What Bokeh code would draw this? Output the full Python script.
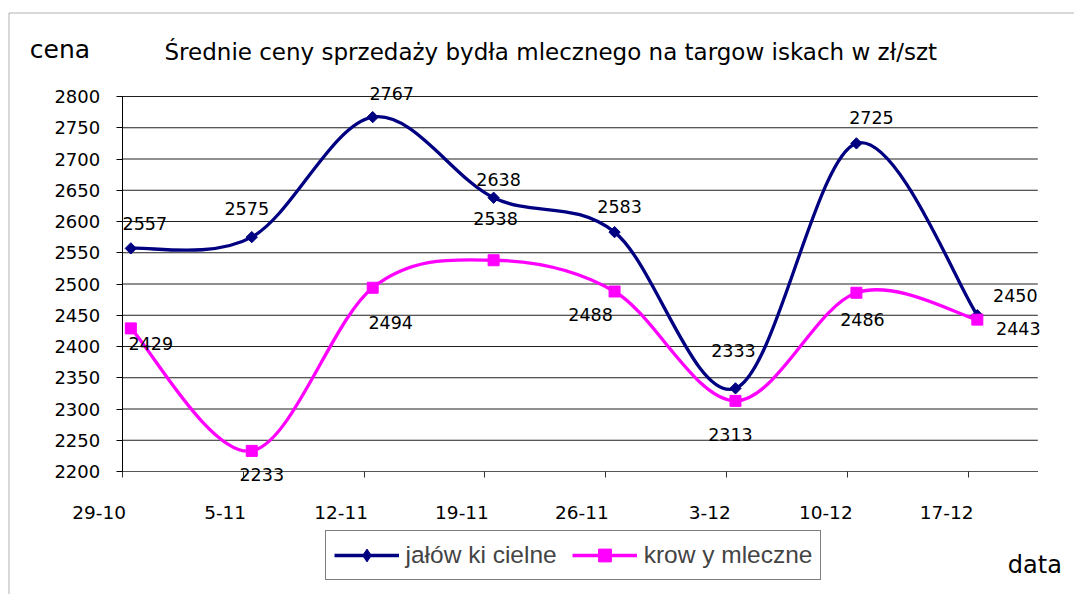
import numpy as np
import pandas as pd
from bokeh.plotting import figure
from bokeh.models import (ColumnDataSource, LabelSet, Label, Legend, LegendItem,
                          FixedTicker, BoxAnnotation, Range1d, LinearAxis)
from bokeh.core.properties import value
from bokeh.embed import file_html
from bokeh.resources import INLINE

# ---------------- data ----------------
dates = ["29-10", "5-11", "12-11", "19-11", "26-11", "3-12", "10-12", "17-12"]
jalowki = [2557, 2575, 2767, 2638, 2583, 2333, 2725, 2450]
krowy = [2429, 2233, 2494, 2538, 2488, 2313, 2486, 2443]
y_ticks = [2200, 2250, 2300, 2350, 2400, 2450, 2500, 2550, 2600, 2650, 2700, 2750, 2800]
series_names = ["jałów ki cielne", "krow y mleczne"]
title_text = "Średnie ceny sprzedaży bydła mlecznego na targow iskach w  zł/szt"
y_title = "cena"
x_title = "data"

# ---------------- styles / positions ----------------
# data-label offsets in screen px (+y = up)
jal_dx = [14, -5, 19, 5, 5, -2, 15, 38]
jal_dy = [25, 29, 24, 18, 26, 38, 26, 20]
krow_dx = [20, 10, 18, 2, -24, -5, 6, 41]
krow_dy = [-15, -24, -35, 42, -23, -34, -27, -9]
# date-label horizontal shift from its tick (px)
xlab_shift_px = [-23, -18, -23, -23, -24, -17, -22, -22]
NAVY = "#000080"
MAGENTA = "#FF00FF"
FONT = "DejaVu Sans"
W, H = 1074, 594
PX_L, PX_R, PX_T, PX_B = 121.7, 1037.3, 96.0, 471.0   # plot-area box in pixels

# date axis: days since first date, points centred in their day
dt = pd.to_datetime([d + "-2007" for d in dates], format="%d-%m-%Y")
days = np.array([(d - dt[0]).days for d in dt], dtype=float)
xs = days + 0.5
X0, X1 = 0.0, 53.0
Y0, Y1 = float(y_ticks[0]), float(y_ticks[-1])
kx = (X1 - X0) / (PX_R - PX_L)
ky = (Y1 - Y0) / (PX_B - PX_T)


def bezier_segments(x, y):
    P = np.column_stack([x, np.asarray(y, dtype=float)])
    E = np.vstack([P[0], P, P[-1]])
    seg = {k: [] for k in ["x0", "y0", "x1", "y1", "cx0", "cy0", "cx1", "cy1"]}
    for i in range(len(P) - 1):
        p0, p1, p2, p3 = E[i], E[i + 1], E[i + 2], E[i + 3]
        c1 = p1 + (p2 - p0) / 6.0
        c2 = p2 - (p3 - p1) / 6.0
        seg["x0"].append(p1[0]); seg["y0"].append(p1[1])
        seg["x1"].append(p2[0]); seg["y1"].append(p2[1])
        seg["cx0"].append(c1[0]); seg["cy0"].append(c1[1])
        seg["cx1"].append(c2[0]); seg["cy1"].append(c2[1])
    return ColumnDataSource(seg)


p = figure(width=W, height=H, output_backend="svg", toolbar_location=None,
           x_range=Range1d(X0 - PX_L * kx, X1 + (W - PX_R) * kx),
           y_range=Range1d(Y0 - (H - PX_B) * ky, Y1 + PX_T * ky),
           min_border=0, min_border_left=0, min_border_right=0,
           min_border_top=0, min_border_bottom=0)
p.outline_line_color = None
p.background_fill_color = "white"
p.border_fill_color = "white"
p.xgrid.visible = False
p.ygrid.visible = False

# horizontal gridlines across the plot area
p.segment(x0=[X0] * len(y_ticks), x1=[X1] * len(y_ticks), y0=y_ticks, y1=y_ticks,
          line_color="#202020", line_width=1)

# y axis
p.yaxis.fixed_location = X0
p.yaxis.bounds = (Y0, Y1)
p.yaxis.ticker = FixedTicker(ticks=y_ticks)
p.yaxis.minor_tick_line_color = None
p.yaxis.major_tick_out = 6
p.yaxis.major_tick_in = 0
p.yaxis.axis_line_color = "black"
p.yaxis.major_tick_line_color = "black"
p.yaxis.major_label_text_font = FONT
p.yaxis.major_label_text_font_size = "18px"
p.yaxis.major_label_text_color = "black"
p.yaxis.major_label_standoff = 16

# x axis: line and tick marks
p.xaxis.fixed_location = Y0
p.xaxis.bounds = (X0, X1)
p.xaxis.ticker = FixedTicker(ticks=list(days))
p.xaxis.major_label_overrides = {float(d): "" for d in days}
p.xaxis.minor_tick_line_color = None
p.xaxis.major_tick_out = 6
p.xaxis.major_tick_in = 0
p.xaxis.axis_line_color = "#555555"
p.xaxis.major_tick_line_color = "#333333"

# x axis: date labels (right-aligned to their tick as in the original)
lab_pos = [float(d + s * kx) for d, s in zip(days, xlab_shift_px)]
lab_axis = LinearAxis(fixed_location=Y0, ticker=FixedTicker(ticks=lab_pos),
                      major_label_overrides={pos: lab for pos, lab in zip(lab_pos, dates)},
                      axis_line_color=None, major_tick_line_color=None,
                      minor_tick_line_color=None, major_tick_out=6, major_tick_in=0,
                      major_label_standoff=28, major_label_text_font=FONT,
                      major_label_text_font_size="18.5px", major_label_text_color="black")
p.add_layout(lab_axis, "below")

# series
rj = p.bezier(x0="x0", y0="y0", x1="x1", y1="y1", cx0="cx0", cy0="cy0", cx1="cx1", cy1="cy1",
              source=bezier_segments(xs, jalowki), line_color=NAVY, line_width=3.3)
rk = p.bezier(x0="x0", y0="y0", x1="x1", y1="y1", cx0="cx0", cy0="cy0", cx1="cx1", cy1="cy1",
              source=bezier_segments(xs, krowy), line_color=MAGENTA, line_width=3.3)
# diamond symbol used for the legend (drawn underneath the chart markers)
sj_leg = p.scatter(xs, jalowki, marker="diamond", size=7, fill_color=NAVY, line_color=NAVY)
sj = p.scatter(xs, jalowki, marker="square", angle=np.pi / 4, size=8,
               fill_color=NAVY, line_color=NAVY)
sk = p.scatter(xs, krowy, marker="square", size=11, fill_color=MAGENTA, line_color=MAGENTA)

# data labels
for vals, dx, dy in [(jalowki, jal_dx, jal_dy), (krowy, krow_dx, krow_dy)]:
    src = ColumnDataSource(dict(x=xs, y=vals, t=[str(v) for v in vals], dx=dx, dy=dy))
    p.add_layout(LabelSet(x="x", y="y", text="t", x_offset="dx", y_offset="dy", source=src,
                          text_align="center", text_baseline="middle",
                          text_font=value(FONT), text_font_size="17.5px", text_color="black"))

# titles (screen px from left / from bottom)
for txt, lx, ly, fs in [(y_title, 29.3, H - 49.3, "25px"),
                        (title_text, 164, H - 51.7, "23px"),
                        (x_title, 1007.3, H - 564.7, "24px")]:
    p.add_layout(Label(x=lx, y=ly, x_units="screen", y_units="screen", text=txt,
                       text_font=FONT, text_font_size=fs, text_color="black",
                       text_baseline="alphabetic", text_align="left"))

# legend
legend = Legend(items=[LegendItem(label=series_names[0], renderers=[rj, sj_leg]),
                       LegendItem(label=series_names[1], renderers=[rk, sk])],
                orientation="horizontal", location=(324.5, H - 580),
                glyph_width=65, glyph_height=32, label_height=28, label_standoff=7,
                spacing=15, padding=8, margin=0,
                label_text_font="Liberation Sans", label_text_font_size="24.5px",
                border_line_color="black", border_line_width=1,
                background_fill_color="white", background_fill_alpha=1.0)
p.add_layout(legend, "center")

# chart-area border (top and left edges visible)
p.add_layout(BoxAnnotation(left=8.5, right=W + 50, top=H - 12.5, bottom=-50,
                           left_units="screen", right_units="screen",
                           top_units="screen", bottom_units="screen",
                           fill_color=None, line_color="black", line_width=1))

open("out.html", "w").write(file_html(p, INLINE))
